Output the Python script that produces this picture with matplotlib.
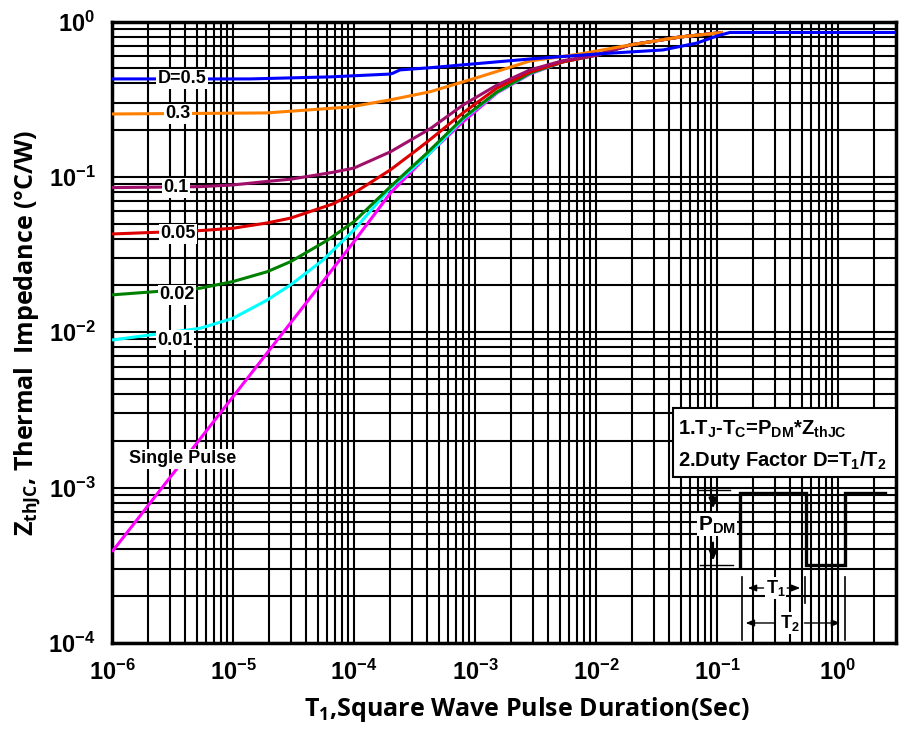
import numpy as np
import matplotlib
matplotlib.use("Agg")
import matplotlib.pyplot as plt
from matplotlib.ticker import LogLocator, FuncFormatter, NullFormatter
from matplotlib.transforms import blended_transform_factory
from matplotlib.patches import Rectangle

plt.rcParams['mathtext.fontset'] = 'custom'
plt.rcParams['mathtext.rm'] = 'Open Sans:bold'
plt.rcParams['mathtext.bf'] = 'Liberation Sans:bold'

# ---------------- data ----------------
tail_t = [1.91e-2, 4.95e-2, 0.112]
tail_z = [0.706, 0.795, 0.85]

t_d05 = [1e-6, 1.38e-5, 6.34e-5, 1.99e-4, 2.10e-4, 2.40e-4, 4.25e-4, 2.85e-3, 1.02e-2, 3.58e-2, 6.84e-2, 0.1, 0.128, 3.0]
z_d05 = [0.427, 0.427, 0.440, 0.459, 0.465, 0.488, 0.504, 0.574, 0.618, 0.656, 0.727, 0.807, 0.85, 0.85]

t_d03 = [1e-6, 1.9e-5, 9.27e-5, 1.99e-4, 4.25e-4, 1.10e-3, 2.85e-3, 7.38e-3, 1.91e-2, 4.95e-2, 0.112]
z_d03 = [0.254, 0.258, 0.282, 0.313, 0.353, 0.441, 0.557, 0.618, 0.706, 0.795, 0.85]

t_d01 = [1e-6, 5.34e-6, 1e-5, 1.91e-5, 3e-5, 6.7e-5, 1e-4, 2e-4, 4.3e-4, 7.96e-4, 1.52e-3, 2.85e-3, 5.34e-3, 1.02e-2] + tail_t
z_d01 = [0.0853, 0.0865, 0.0887, 0.0935, 0.0966, 0.107, 0.114, 0.145, 0.205, 0.290, 0.390, 0.488, 0.560, 0.609] + tail_z

t_d005 = [1e-6, 5.34e-6, 1e-5, 1.91e-5, 3e-5, 6.7e-5, 1e-4, 2e-4, 3.3e-4, 4.3e-4, 7.96e-4, 1.52e-3, 2.85e-3, 5.34e-3, 1.02e-2] + tail_t
z_d005 = [0.0429, 0.0451, 0.0467, 0.0505, 0.0543, 0.067, 0.0787, 0.111, 0.149, 0.175, 0.258, 0.373, 0.473, 0.550, 0.609] + tail_z

t_d002 = [1e-6, 5.34e-6, 1e-5, 1.91e-5, 3e-5, 6e-5, 1e-4, 2e-4, 4e-4, 7.96e-4, 1.52e-3, 2.85e-3, 5.34e-3, 1.02e-2] + tail_t
z_d002 = [0.0174, 0.0192, 0.0212, 0.0245, 0.0285, 0.039, 0.0515, 0.0865, 0.142, 0.239, 0.352, 0.466, 0.550, 0.609] + tail_z

t_d001 = [1e-6, 5.34e-6, 1e-5, 1.91e-5, 3e-5, 5.5e-5, 1e-4, 2e-4, 4e-4, 7.96e-4, 1.52e-3, 2.85e-3, 5.34e-3, 1.02e-2] + tail_t
z_d001 = [0.00891, 0.0106, 0.0123, 0.0161, 0.0202, 0.0290, 0.0455, 0.0850, 0.136, 0.235, 0.350, 0.463, 0.550, 0.609] + tail_z

t_single = [1e-6, 1e-4, 2e-4, 4.5e-4, 7.96e-4, 1.52e-3, 2.85e-3, 5.34e-3, 1.02e-2] + tail_t
z_single = [3.86e-4, 0.0383, 0.0787, 0.149, 0.226, 0.347, 0.459, 0.550, 0.609] + tail_z

series_labels = ["D=0.5", "0.3", "0.1", "0.05", "0.02", "0.01", "Single Pulse"]
series_colors = ["#0000FF", "#FF8000", "#A0106A", "#DD0000", "#008000", "#00FFFF", "#FF00FF"]
x_ticks = [1e-6, 1e-5, 1e-4, 1e-3, 1e-2, 1e-1, 1e0]
y_ticks = [1e-4, 1e-3, 1e-2, 1e-1, 1e0]

series_t = [t_d05, t_d03, t_d01, t_d005, t_d002, t_d001, t_single]
series_z = [z_d05, z_d03, z_d01, z_d005, z_d002, z_d001, z_single]

# ---------------- figure ----------------
fig = plt.figure(figsize=(9.03, 7.35), dpi=100)
ax = fig.add_axes([112/903, 1-643/735, 783.7/903, 621.5/735])
ax.set_xscale('log')
ax.set_yscale('log')
ax.set_xlim(1e-6, 3.0)
ax.set_ylim(1e-4, 1.0)

ax.xaxis.set_minor_locator(LogLocator(base=10, subs=np.arange(2, 10), numticks=100))
ax.yaxis.set_minor_locator(LogLocator(base=10, subs=np.arange(2, 10), numticks=100))
ax.set_xticks(x_ticks)
ax.set_yticks(y_ticks)

def fmt(v, pos):
    e = int(round(np.log10(v)))
    return r'$\mathbf{10^{%d}}$' % e

ax.xaxis.set_major_formatter(FuncFormatter(fmt))
ax.yaxis.set_major_formatter(FuncFormatter(fmt))
ax.xaxis.set_minor_formatter(NullFormatter())
ax.yaxis.set_minor_formatter(NullFormatter())
ax.tick_params(which='both', length=0)
ax.tick_params(axis='x', which='major', labelsize=17, pad=12)
ax.tick_params(axis='y', which='major', labelsize=17, pad=12)

ax.grid(True, which='both', color='black', lw=1.5)
ax.set_axisbelow(True)
for s in ax.spines.values():
    s.set_linewidth(2.5)
    s.set_color('black')

# curves: draw single pulse first, D=0.5 last
for t, z, c in reversed(list(zip(series_t, series_z, series_colors))):
    ax.plot(t, z, color=c, lw=2.2, solid_capstyle='butt', solid_joinstyle='round', zorder=3)

# curve labels
btr = blended_transform_factory(ax.transAxes, ax.transData)
label_x = [0.089, 0.084, 0.082, 0.084, 0.083, 0.080]
for lab, z, lx in zip(series_labels[:6], series_z[:6], label_x):
    ax.text(lx, z[0], lab, transform=btr, ha='center', va='center',
            fontsize=13, fontweight='bold', family='Liberation Sans',
            bbox=dict(facecolor='white', edgecolor='none', pad=1.0), zorder=5)
ax.text(0.090, 1.53e-3, series_labels[6], transform=btr, ha='center', va='center',
        fontsize=13, fontweight='bold', family='Liberation Sans',
        bbox=dict(facecolor='white', edgecolor='none', pad=1.0), zorder=5)

# info box
ax.add_patch(Rectangle((0.716, 0.267), 0.284, 0.111, transform=ax.transAxes,
                       facecolor='white', edgecolor='black', lw=1.5, zorder=6))
ax.text(0.722, 0.343, r'1.T$_\mathbf{J}$-T$_\mathbf{C}$=P$_\mathbf{DM}$*Z$_\mathbf{thJC}$',
        transform=ax.transAxes, ha='left', va='center', fontsize=14.5, fontweight='bold',
        family='Liberation Sans', zorder=7)
ax.text(0.722, 0.294, r'2.Duty Factor D=T$_\mathbf{1}$/T$_\mathbf{2}$',
        transform=ax.transAxes, ha='left', va='center', fontsize=14.5, fontweight='bold',
        family='Liberation Sans', zorder=7)

# pulse diagram (axes coordinates)
px = [0.8013, 0.8013, 0.8852, 0.8852, 0.9353, 0.9353, 0.9864]
py = [0.1239, 0.2418, 0.2418, 0.1255, 0.1255, 0.2418, 0.2418]
ax.plot(px, py, transform=ax.transAxes, color='black', lw=2.4, zorder=6,
        solid_joinstyle='miter')
ax.plot([0.7465, 0.7886], [0.2462, 0.2462], transform=ax.transAxes, color='black', lw=1.0, zorder=6)
ax.plot([0.7503, 0.7924], [0.1255, 0.1255], transform=ax.transAxes, color='black', lw=1.0, zorder=6)
arr = dict(arrowstyle='-|>,head_width=0.25,head_length=0.6', color='black', lw=1.5)
ax.annotate('', xy=(0.7669, 0.212), xytext=(0.7669, 0.2413), xycoords='axes fraction',
            arrowprops=arr, zorder=7)
ax.annotate('', xy=(0.7669, 0.128), xytext=(0.7669, 0.166), xycoords='axes fraction',
            arrowprops=arr, zorder=7)
ax.text(0.772, 0.190, r'P$_\mathbf{DM}$', transform=ax.transAxes, ha='center', va='center',
        fontsize=15, fontweight='bold', family='Liberation Sans',
        bbox=dict(facecolor='white', edgecolor='none', pad=0.5), zorder=7)

# T1 / T2 marks
ax.plot([0.8039, 0.8039], [0.106, 0.005], transform=ax.transAxes, color='black', lw=1.2, zorder=6)
ax.plot([0.8843, 0.8843], [0.106, 0.064], transform=ax.transAxes, color='black', lw=1.2, zorder=6)
ax.plot([0.9353, 0.9353], [0.106, 0.005], transform=ax.transAxes, color='black', lw=1.2, zorder=6)
arr2 = dict(arrowstyle='-|>,head_width=0.2,head_length=0.5', color='black', lw=1.0)
ax.annotate('', xy=(0.8077, 0.0885), xytext=(0.835, 0.0885), xycoords='axes fraction', arrowprops=arr2, zorder=7)
ax.annotate('', xy=(0.8817, 0.0885), xytext=(0.858, 0.0885), xycoords='axes fraction', arrowprops=arr2, zorder=7)
ax.text(0.847, 0.0885, r'T$_\mathbf{1}$', transform=ax.transAxes, ha='center', va='center',
        fontsize=13, fontweight='bold', family='Liberation Sans',
        bbox=dict(facecolor='white', edgecolor='none', pad=0.5), zorder=7)
ax.annotate('', xy=(0.805, 0.0322), xytext=(0.85, 0.0322), xycoords='axes fraction', arrowprops=arr2, zorder=7)
ax.annotate('', xy=(0.9328, 0.0322), xytext=(0.88, 0.0322), xycoords='axes fraction', arrowprops=arr2, zorder=7)
ax.text(0.865, 0.0322, r'T$_\mathbf{2}$', transform=ax.transAxes, ha='center', va='center',
        fontsize=13, fontweight='bold', family='Liberation Sans',
        bbox=dict(facecolor='white', edgecolor='none', pad=0.5), zorder=7)

# axis labels
fig.text(27/903, 1-333/735, r'Z$_{\mathrm{thJC}}$, Thermal  Impedance (°C/W)', rotation=90,
         ha='center', va='center', fontsize=18, fontweight='bold', family='Open Sans')
fig.text(527/903, 1-710/735, r'T$_{\mathrm{1}}$,Square Wave Pulse Duration(Sec)',
         ha='center', va='center', fontsize=18, fontweight='bold', family='Open Sans')

fig.savefig('out.png', dpi=100, facecolor='white')
